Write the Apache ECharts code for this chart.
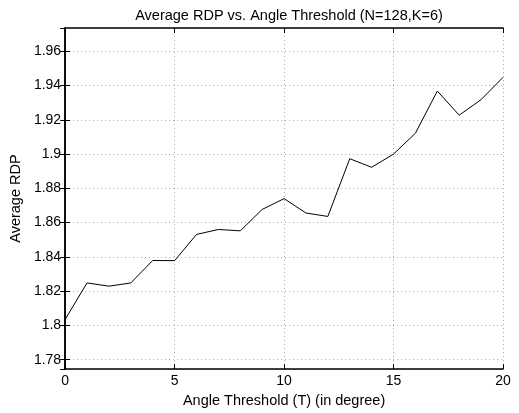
<!DOCTYPE html>
<html>
<head>
<meta charset="utf-8">
<script src="https://cdn.jsdelivr.net/npm/echarts@6/dist/echarts.min.js"></script>
<style>
  html, body { margin: 0; padding: 0; background: #fff; }
  #chart { width: 519px; height: 413px; }
</style>
</head>
<body>
<div id="chart"></div>
<script>
// angle threshold T (degrees)
var thresholds = [0, 1, 2, 3, 4, 5, 6, 7, 8, 9, 10, 11, 12, 13, 14, 15, 16, 17, 18, 19, 20];
// average RDP
var avgRdp = [1.8035, 1.8248, 1.8229, 1.8248, 1.8379, 1.8378, 1.8531, 1.8560, 1.8552, 1.8677, 1.8740,
              1.8656, 1.8636, 1.8973, 1.8923, 1.9000, 1.9122, 1.9368, 1.9227, 1.9318, 1.9448];
var xTicks = [0, 5, 10, 15, 20];

var chart = echarts.init(document.getElementById('chart'));
var font = 'Liberation Sans, Arial, Helvetica, sans-serif';
var gridDots = { show: true, lineStyle: { color: '#aaa', type: [1, 3], width: 1 } };

chart.setOption({
  animation: false,
  title: {
    text: 'Average RDP vs. Angle Threshold (N=128,K=6)',
    left: 284,
    top: 3,
    textAlign: 'center',
    textStyle: { fontFamily: font, fontSize: 14.5, fontWeight: 'normal', color: '#000' }
  },
  grid: { left: 63, right: 16, top: 28, bottom: 39 },
  xAxis: [
    {
      type: 'value',
      min: xTicks[0],
      max: xTicks[xTicks.length - 1],
      interval: xTicks[1] - xTicks[0],
      name: 'Angle Threshold (T) (in degree)',
      nameLocation: 'middle',
      nameGap: 20,
      nameTextStyle: { fontFamily: font, fontSize: 14.5, color: '#000' },
      axisLine: { show: true, lineStyle: { color: '#000', width: 1.5 } },
      axisTick: { show: true, inside: true, length: 5, lineStyle: { color: '#000' } },
      axisLabel: { fontFamily: font, fontSize: 14, color: '#000', margin: 5 },
      splitLine: gridDots
    },
    {
      type: 'value',
      position: 'top',
      min: xTicks[0],
      max: xTicks[xTicks.length - 1],
      interval: xTicks[1] - xTicks[0],
      axisLine: { show: true, lineStyle: { color: '#000', width: 1.5 } },
      axisTick: { show: true, inside: true, length: 5, lineStyle: { color: '#000' } },
      axisLabel: { show: false },
      splitLine: { show: false }
    }
  ],
  yAxis: [
    {
      type: 'value',
      min: 1.7745,
      max: 1.9736,
      splitNumber: 10,
      name: 'Average RDP',
      nameLocation: 'middle',
      nameGap: 37,
      nameTextStyle: { fontFamily: font, fontSize: 14.5, color: '#000' },
      axisLine: { show: true, lineStyle: { color: '#000', width: 1.5 } },
      axisTick: { show: true, inside: true, length: 5, lineStyle: { color: '#000' } },
      axisLabel: {
        fontFamily: font, fontSize: 14, color: '#000', margin: 4,
        showMinLabel: false, showMaxLabel: false,
        formatter: function (v) { return String(Math.round(v * 100) / 100); }
      },
      splitLine: gridDots
    },
    {
      type: 'value',
      position: 'right',
      min: 1.7745,
      max: 1.9736,
      splitNumber: 10,
      axisLine: { show: true, lineStyle: { color: '#000', width: 1.5 } },
      axisTick: { show: true, inside: true, length: 5, lineStyle: { color: '#000' } },
      axisLabel: { show: false },
      splitLine: { show: false }
    }
  ],
  series: [
    {
      type: 'line',
      data: thresholds.map(function (t, i) { return [t, avgRdp[i]]; }),
      showSymbol: false,
      lineStyle: { color: '#000', width: 1 },
      itemStyle: { color: '#000' }
    }
  ]
});
</script>
</body>
</html>
